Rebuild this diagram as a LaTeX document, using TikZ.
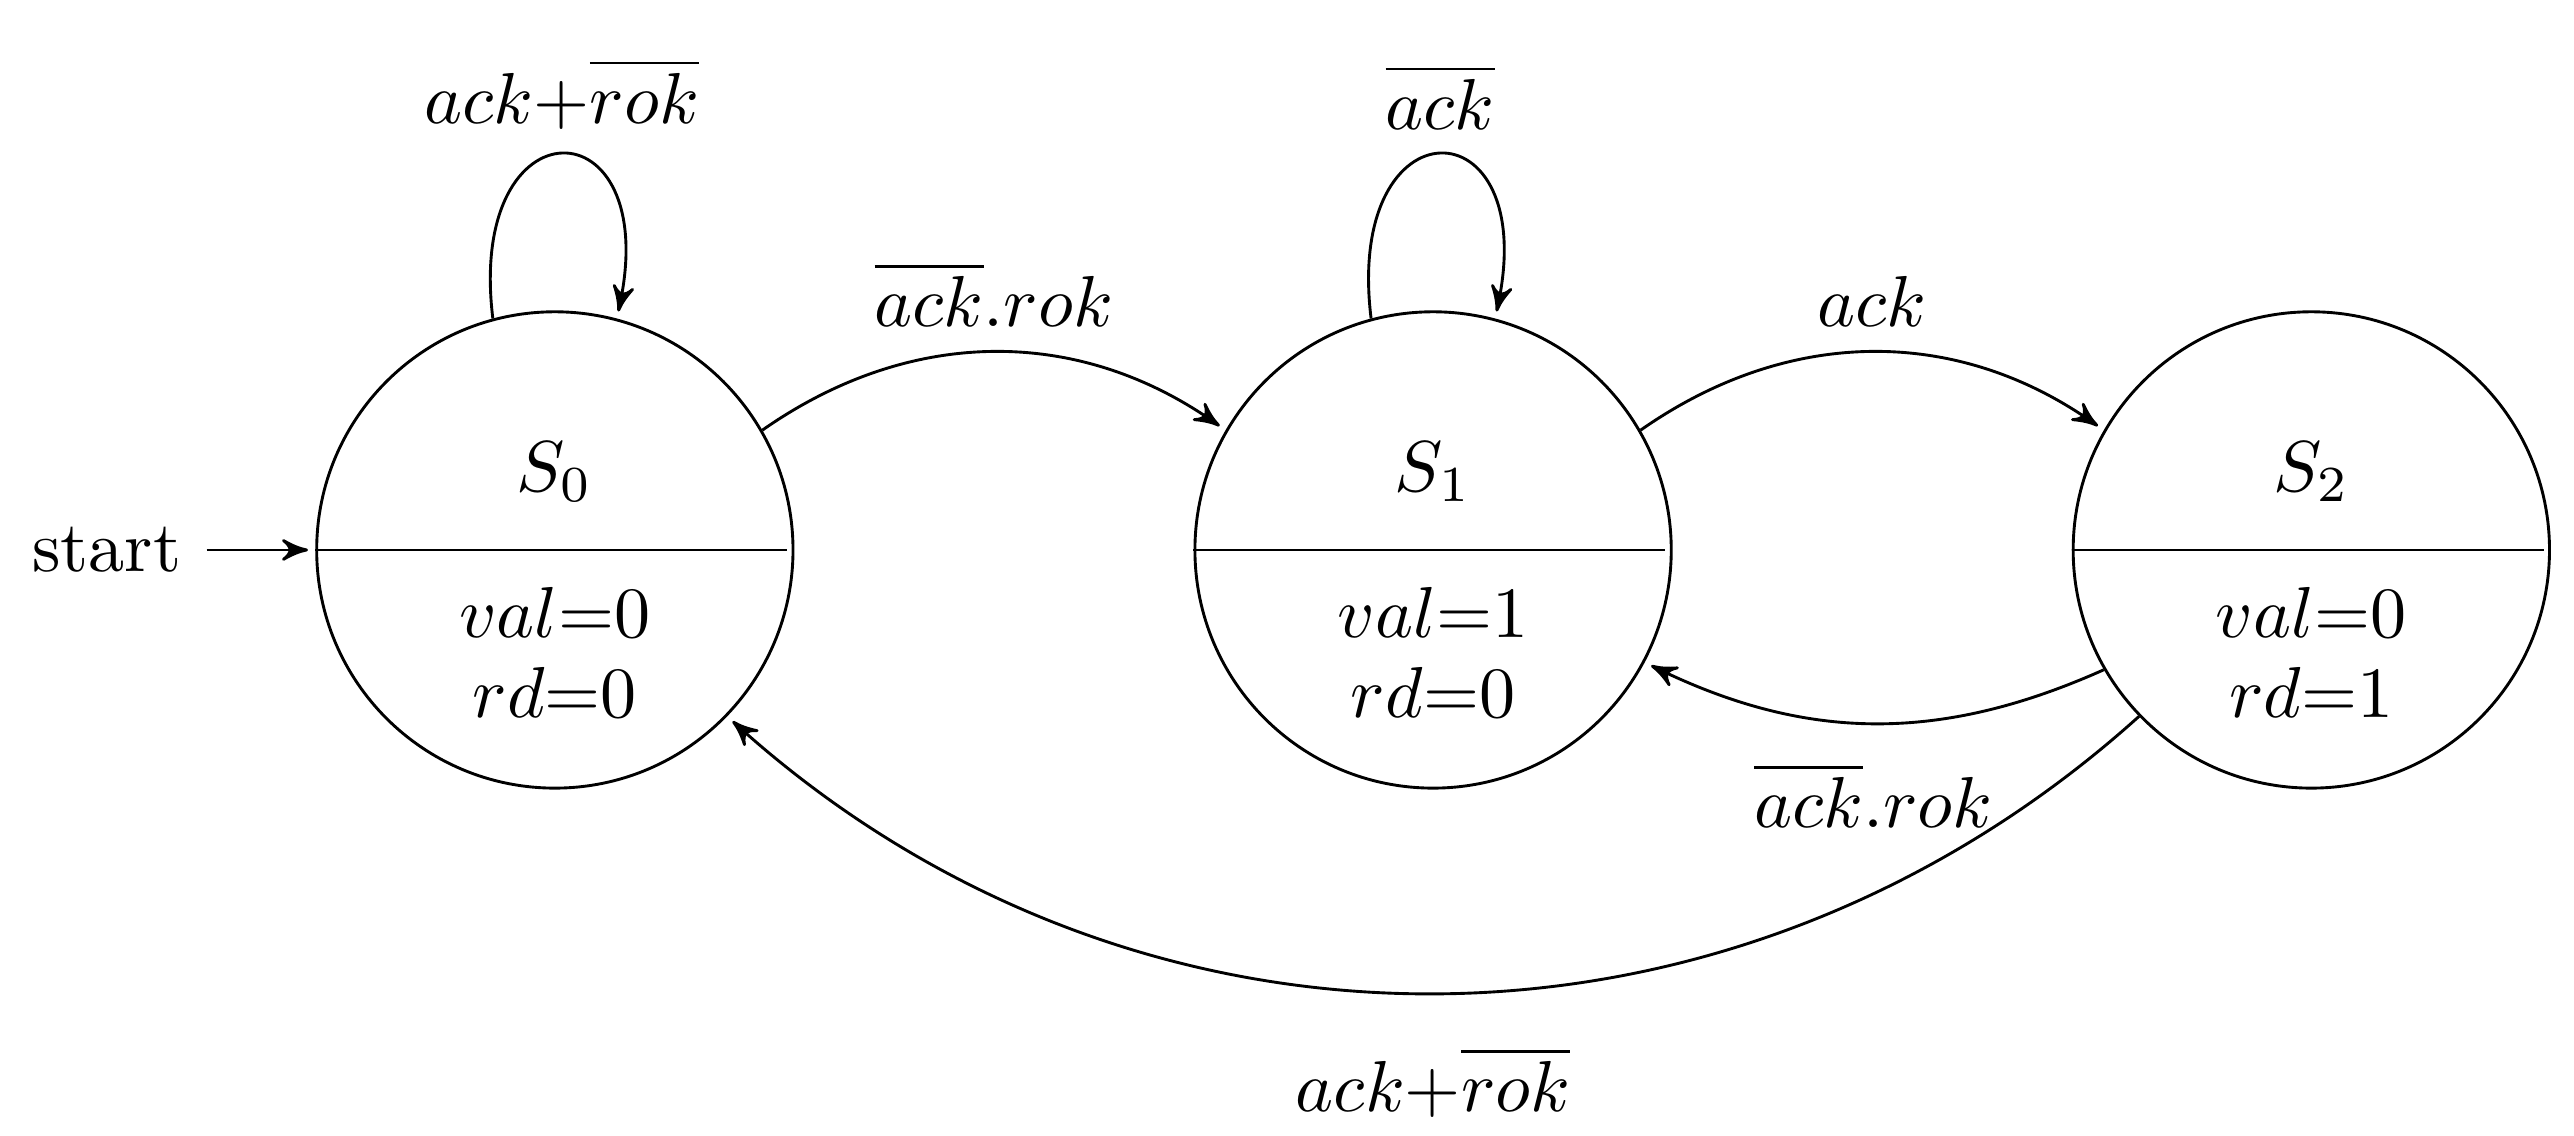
\documentclass[tikz,border=0pt]{standalone}
\usetikzlibrary{arrows}
\begin{document}
\begin{tikzpicture}[->,>=stealth',shorten >=1pt,thin,x=0.008cm,y=-0.008cm]
  \tikzstyle{every state}=[circle,draw,thin,minimum size=2.32cm,inner sep=0pt]
  \useasboundingbox (0,0) rectangle (1568,692);

  \node[every state] (S0) at (338,335) {};
  \node[every state] (S1) at (873,335) {};
  \node[every state] (S2) at (1408,335) {};
  \foreach \s/\n/\v/\r in {S0/0/0/0,S1/1/1/0,S2/2/0/1} {
    \draw[-,thin] (\s.west) -- (\s.east);
    \node at ([yshift=0.38cm]\s.center) {$S_\n$};
    \node[align=center] at ([yshift=-0.5cm]\s.center) {$val{=}\v$\\[-1pt]$rd{=}\r$};
  }
  \node (start) at (65,335) {start};
  \draw (start) -- (S0.west);

  \draw (S0.105) .. controls +(-97:135) and +(-78:135) .. node[above] {$ack{+}\overline{rok}$} (S0.75);
  \draw (S1.105) .. controls +(-97:135) and +(-78:135) .. node[above] {$\overline{ack}$} (S1.75);
  \path (S0.30) edge[bend left=35] node[above] {$\overline{ack}.rok$} (S1.150)
        (S1.30) edge[bend left=35] node[above] {$ack$} (S2.150)
        (S2.210) edge[bend left=25] node[below=2pt] {$\overline{ack}.rok$} (S1.332)
        (S2.224) edge[bend left=42] node[below=4pt] {$ack{+}\overline{rok}$} (S0.316);
\end{tikzpicture}
\end{document}
